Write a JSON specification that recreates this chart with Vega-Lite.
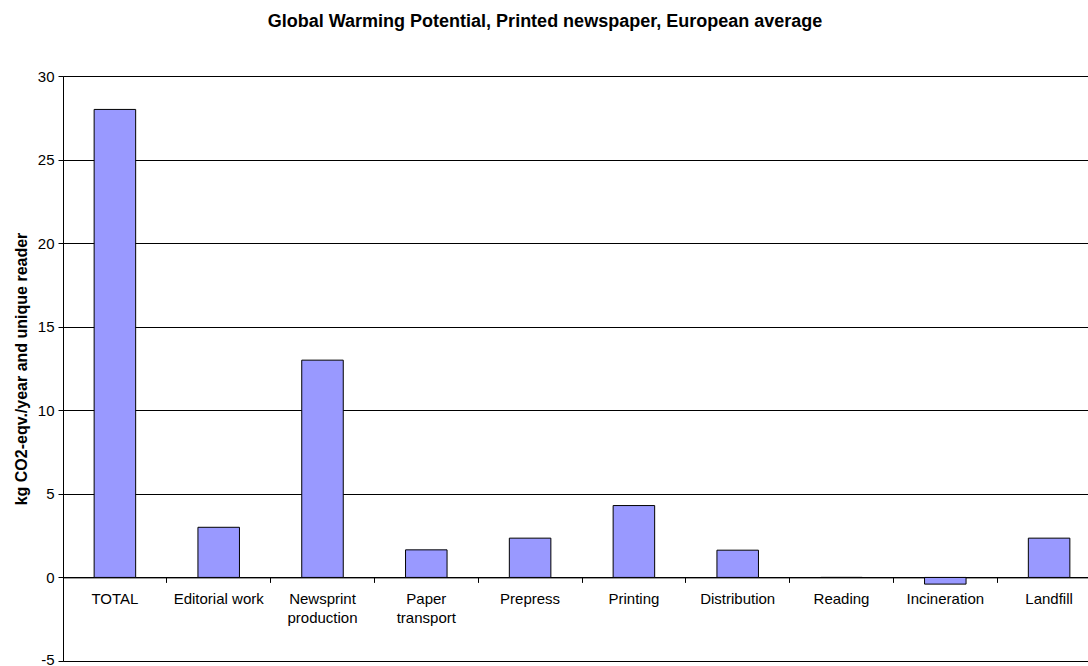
{
  "$schema": "https://vega.github.io/schema/vega-lite/v6.json",
  "autosize": {"type": "none"},
  "padding": {"left": 63, "top": 76, "right": 0, "bottom": 5},
  "width": 1038,
  "height": 585,
  "background": "white",
  "title": {
    "text": "Global Warming Potential, Printed newspaper, European average",
    "font": "Liberation Sans",
    "fontSize": 18,
    "fontWeight": "bold",
    "color": "black",
    "anchor": "middle",
    "dx": -37,
    "offset": 38
  },
  "config": {
    "view": {"stroke": "#808080", "strokeWidth": 1},
    "axis": {"labelFont": "Liberation Sans", "titleFont": "Liberation Sans", "labelColor": "black", "titleColor": "black"}
  },
  "data": {
    "values": [
      {"stage": "TOTAL", "value": 28.0},
      {"stage": "Editorial work", "value": 3.0},
      {"stage": "Newsprint production", "value": 13.0},
      {"stage": "Paper transport", "value": 1.65},
      {"stage": "Prepress", "value": 2.35},
      {"stage": "Printing", "value": 4.3},
      {"stage": "Distribution", "value": 1.63},
      {"stage": "Reading", "value": 0.0},
      {"stage": "Incineration", "value": -0.4},
      {"stage": "Landfill", "value": 2.35}
    ]
  },
  "layer": [
    {
      "mark": {"type": "bar", "width": {"band": 0.4}, "fill": "#9999FF", "stroke": "black", "strokeWidth": 1},
      "encoding": {
        "x": {
          "field": "stage",
          "type": "nominal",
          "sort": null,
          "scale": {"paddingInner": 0, "paddingOuter": 0},
          "axis": {
            "title": null,
            "labelAngle": 0,
            "labelFontSize": 15,
            "labelPadding": 9,
            "labelLineHeight": 19,
            "labelExpr": "length(datum.value) > 14 ? split(datum.value, ' ') : datum.value",
            "offset": -83.6,
            "domainColor": "black",
            "tickColor": "black",
            "tickSize": 5,
            "bandPosition": 0,
            "grid": false
          }
        },
        "y": {
          "field": "value",
          "type": "quantitative",
          "scale": {"domain": [-5, 30], "nice": false, "zero": false},
          "axis": {
            "title": "kg CO2-eqv./year and unique reader",
            "titleFontSize": 16,
            "titleFontWeight": "bold",
            "titlePadding": 8,
            "values": [-5, 0, 5, 10, 15, 20, 25, 30],
            "labelExpr": "replace(datum.label, '\u2212', '-')",
            "labelFontSize": 15,
            "labelPadding": 4,
            "labelOffset": {"condition": {"test": "datum.value == -5", "value": -2}, "value": 0},
            "tickSize": 5,
            "tickColor": "black",
            "domainColor": "black",
            "grid": true,
            "gridColor": "black",
            "gridOpacity": 1
          }
        }
      }
    }
  ]
}
